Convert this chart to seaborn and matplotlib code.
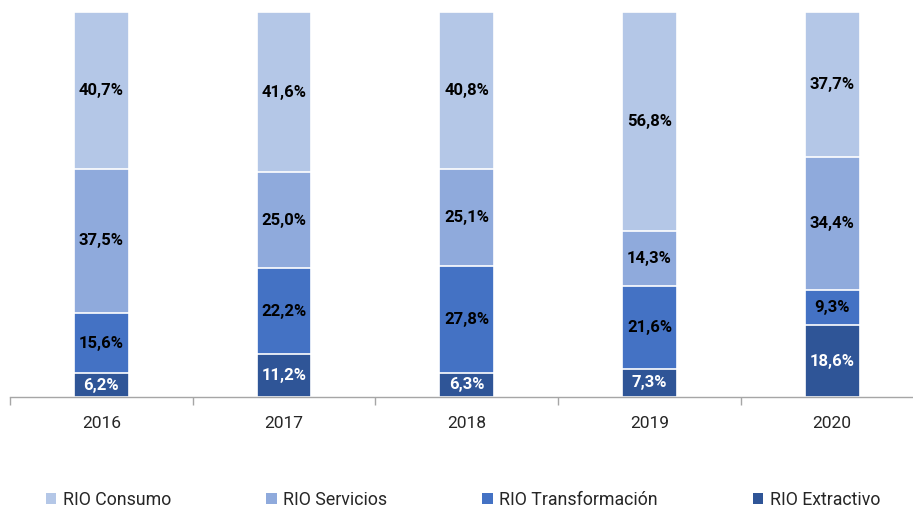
import matplotlib
matplotlib.use("Agg")
import matplotlib.pyplot as plt
import seaborn as sns
import pandas as pd
import numpy as np
from matplotlib.patches import Patch

years = ["2016", "2017", "2018", "2019", "2020"]
series = ["RIO Consumo", "RIO Servicios", "RIO Transformación", "RIO Extractivo"]
consumo = [40.7, 41.6, 40.8, 56.8, 37.7]
servicios = [37.5, 25.0, 25.1, 14.3, 34.4]
transformacion = [15.6, 22.2, 27.8, 21.6, 9.3]
extractivo = [6.2, 11.2, 6.3, 7.3, 18.6]
colors = ["#B4C7E7", "#8FAADC", "#4472C4", "#2F5597"]
label_colors = ["black", "black", "black", "white"]

sns.set_theme(style="white")
plt.rcParams["font.family"] = ["Roboto", "DejaVu Sans"]

df = pd.DataFrame({"year": years, "RIO Consumo": consumo, "RIO Servicios": servicios,
                   "RIO Transformación": transformacion, "RIO Extractivo": extractivo})

# stack from bottom: Extractivo, Transformación, Servicios, Consumo
stack_order = ["RIO Extractivo", "RIO Transformación", "RIO Servicios", "RIO Consumo"]
cum = df[stack_order].cumsum(axis=1)

fig = plt.figure(figsize=(9.13, 5.09), dpi=100)
ax = fig.add_axes([10/913, 112/509, 913.5/913, 385/509])

col_of = dict(zip(series, colors))
lab_of = dict(zip(series, label_colors))
# draw from top-most cumulative down so lower segments overlay
for name in reversed(stack_order):
    d = pd.DataFrame({"year": years, "val": cum[name].values})
    sns.barplot(data=d, x="year", y="val", color=col_of[name], width=0.3,
                edgecolor="white", linewidth=1.2, saturation=1, ax=ax, zorder=2)

for i, y in enumerate(years):
    bottom = 0.0
    for name in stack_order:
        v = df.loc[i, name]
        ax.text(i, bottom + v / 2, f"{v:.1f}%".replace(".", ","), ha="center", va="center",
                fontsize=12, fontweight="bold", color=lab_of[name], zorder=5)
        bottom += v

ax.set_ylim(0, 100)
ax.set_xlim(-0.5, 4.5)
ax.set_xlabel("")
ax.set_ylabel("")
ax.set_yticks([])
for s in ["left", "right", "top"]:
    ax.spines[s].set_visible(False)
ax.spines["bottom"].set_color("#A6A6A6")
ax.spines["bottom"].set_linewidth(1)
ax.set_xticks(range(len(years)))
ax.set_xticklabels(years)
ax.tick_params(axis="x", which="major", bottom=False, length=0, pad=14, labelsize=12.5,
               labelcolor="#262626")
ax.set_xticks(np.arange(-0.5, 5.0, 1.0), minor=True)
ax.tick_params(axis="x", which="minor", bottom=True, length=6, width=1, color="#A6A6A6",
               direction="out")

handles = [Patch(facecolor=c, edgecolor="none") for c in colors]
fig.legend(handles, series, loc="center", bbox_to_anchor=(0.507, 0.018), ncol=4,
           frameon=False, fontsize=12.8, handlelength=0.6, handleheight=0.6,
           handletextpad=0.35, columnspacing=5.35, labelcolor="#262626")

fig.savefig("out.png", dpi=100)
